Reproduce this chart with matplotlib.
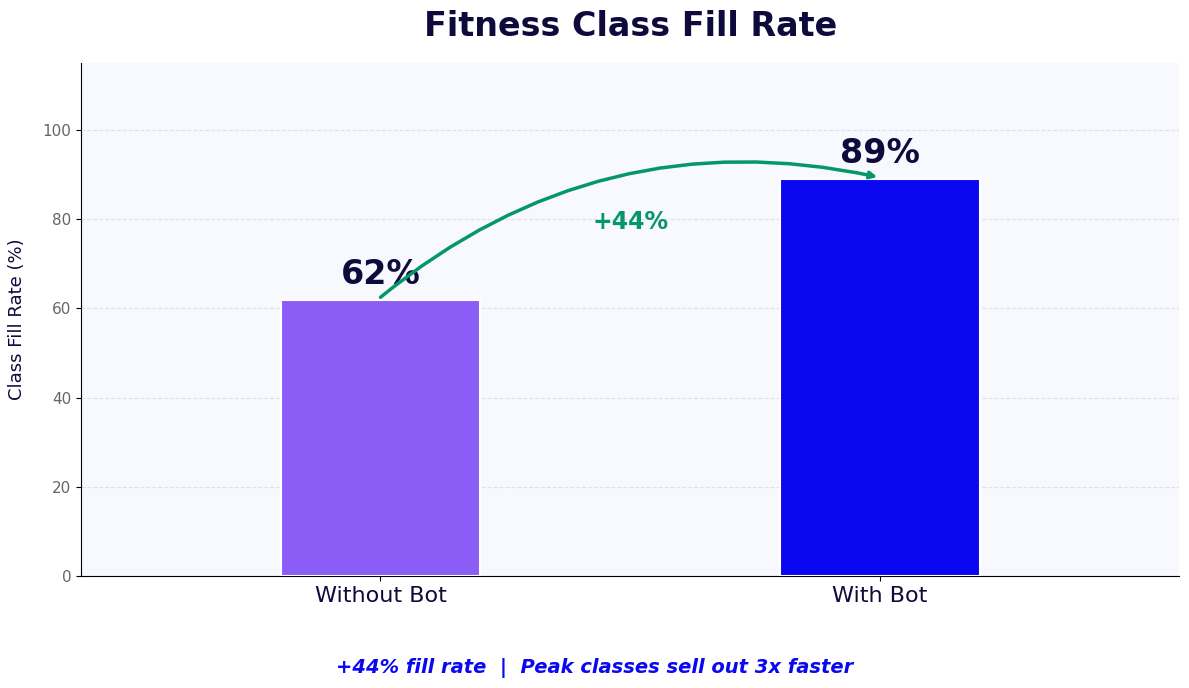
import matplotlib
matplotlib.use("Agg")
import matplotlib.pyplot as plt

categories = ["Without Bot", "With Bot"]
fill_rates = [62, 89]
bar_labels = ["62%", "89%"]
bar_colors = ["#8b5cf6", "#0a08f0"]
change_label = "+44%"
footer = "+44% fill rate  |  Peak classes sell out 3x faster"

dark = "#0f0a3c"
green = "#059669"

fig = plt.figure(figsize=(11.89, 6.88), dpi=100)
ax = fig.add_axes([0.068, 0.163, 0.924, 0.745])
ax.set_facecolor("#f8f9fe")

x = list(range(len(categories)))
ax.bar(x, fill_rates, width=0.4, color=bar_colors, edgecolor="white", linewidth=1.5, zorder=3)

for xi, v, lab in zip(x, fill_rates, bar_labels):
    ax.text(xi, v + 2, lab, ha="center", va="bottom", fontsize=24, fontweight="bold", color=dark, zorder=4)

# arrow from first bar to second
ax.annotate("", xy=(x[1] - 0.005, fill_rates[1] + 0.5), xytext=(x[0], fill_rates[0] + 0.5),
            arrowprops=dict(arrowstyle="->", color=green, lw=2.5,
                            connectionstyle="arc3,rad=-0.24", shrinkA=0, shrinkB=0),
            zorder=5)
ax.text(0.5, 79.5, change_label, ha="center", va="center", fontsize=17, fontweight="bold", color=green)

ax.set_xlim(-0.6, 1.6)
ax.set_ylim(0, 115)
ax.set_xticks(x)
ax.set_xticklabels(categories, fontsize=16, color=dark)
ax.tick_params(axis="y", labelsize=11, labelcolor="#666666")
ax.set_yticks([0, 20, 40, 60, 80, 100])
ax.set_ylabel("Class Fill Rate (%)", fontsize=13, color=dark, labelpad=12)
ax.yaxis.grid(True, linestyle="--", color="#e0e0e8", linewidth=0.8, zorder=0)
ax.set_axisbelow(True)
for s in ["top", "right"]:
    ax.spines[s].set_visible(False)

ax.set_title("Fitness Class Fill Rate", fontsize=24, fontweight="bold", color=dark, pad=20)
fig.text(0.5, 0.029, footer, ha="center", va="center", fontsize=14, fontweight="bold",
         fontstyle="italic", color="#0a08f0")

fig.savefig("out.png", dpi=100)
